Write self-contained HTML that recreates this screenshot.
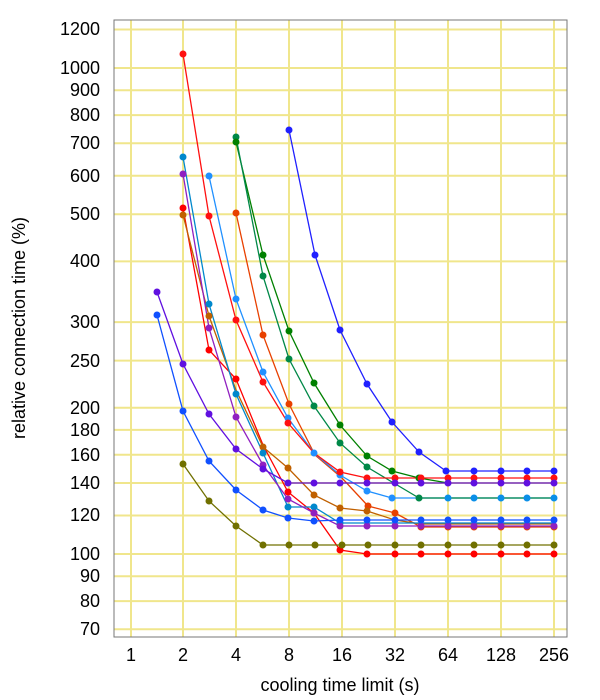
<!DOCTYPE html><html><head><style>body{margin:0;background:#fff}svg{display:block;font-family:"Liberation Sans",sans-serif}</style></head><body>
<svg width="600" height="700" xmlns="http://www.w3.org/2000/svg">
<g stroke="#f0e68c" stroke-width="2">
<line x1="131" y1="20" x2="131" y2="637"/><line x1="183" y1="20" x2="183" y2="637"/><line x1="236" y1="20" x2="236" y2="637"/><line x1="289" y1="20" x2="289" y2="637"/><line x1="342" y1="20" x2="342" y2="637"/><line x1="395" y1="20" x2="395" y2="637"/><line x1="448" y1="20" x2="448" y2="637"/><line x1="501" y1="20" x2="501" y2="637"/><line x1="554" y1="20" x2="554" y2="637"/>
<line x1="114" y1="629.3" x2="567" y2="629.3"/><line x1="114" y1="601.1" x2="567" y2="601.1"/><line x1="114" y1="576.2" x2="567" y2="576.2"/><line x1="114" y1="554" x2="567" y2="554"/><line x1="114" y1="515.5" x2="567" y2="515.5"/><line x1="114" y1="483" x2="567" y2="483"/><line x1="114" y1="454.8" x2="567" y2="454.8"/><line x1="114" y1="429.9" x2="567" y2="429.9"/><line x1="114" y1="407.7" x2="567" y2="407.7"/><line x1="114" y1="360.6" x2="567" y2="360.6"/><line x1="114" y1="322.1" x2="567" y2="322.1"/><line x1="114" y1="261.4" x2="567" y2="261.4"/><line x1="114" y1="214.3" x2="567" y2="214.3"/><line x1="114" y1="175.8" x2="567" y2="175.8"/><line x1="114" y1="143.3" x2="567" y2="143.3"/><line x1="114" y1="115.1" x2="567" y2="115.1"/><line x1="114" y1="90.3" x2="567" y2="90.3"/><line x1="114" y1="68" x2="567" y2="68"/><line x1="114" y1="29.5" x2="567" y2="29.5"/>
</g>
<rect x="114" y="20" width="453" height="617" fill="none" stroke="#777" stroke-width="1"/>
<g font-size="18" fill="#000" text-anchor="end">
<text x="100" y="635">70</text><text x="100" y="607">80</text><text x="100" y="582">90</text><text x="100" y="560">100</text><text x="100" y="521">120</text><text x="100" y="489">140</text><text x="100" y="461">160</text><text x="100" y="436">180</text><text x="100" y="414">200</text><text x="100" y="367">250</text><text x="100" y="328">300</text><text x="100" y="267">400</text><text x="100" y="220">500</text><text x="100" y="182">600</text><text x="100" y="149">700</text><text x="100" y="121">800</text><text x="100" y="96">900</text><text x="100" y="74">1000</text><text x="100" y="35">1200</text>
</g>
<g font-size="18" fill="#000" text-anchor="middle">
<text x="131" y="661">1</text><text x="183" y="661">2</text><text x="236" y="661">4</text><text x="289" y="661">8</text><text x="342" y="661">16</text><text x="395" y="661">32</text><text x="448" y="661">64</text><text x="501" y="661">128</text><text x="554" y="661">256</text>
<text x="340" y="691">cooling time limit (s)</text>
<text transform="translate(25,328) rotate(-90)">relative connection time (%)</text>
</g>
<g fill="none" stroke-width="1.3">
<polyline stroke="#ff0000" points="183,208 209,350 236,379 263,445 288,492 314,513 340,550 367,554 395,554 421,554 448,554 474,554 501,554 527,554 554,554"/>
<polyline stroke="#e84000" points="236,213 263,335 289,404 315,455 342,478 368,506 395,513 421,527 448,527 474,527 501,527 527,527 554,527"/>
<polyline stroke="#c06000" points="183,215 209,316 236,390 263,447 288,468 314,495 340,508 367,511 395,520 421,524 448,524 474,524 501,524 527,524 554,524"/>
<polyline stroke="#0088cc" points="183,157 209,304 236,394 263,453 288,507 314,507 340,523 367,523 395,523 421,523 448,523 474,523 501,523 527,523 554,523"/>
<polyline stroke="#9020c0" points="183,174 209,328 236,417 263,465 288,499 314,513 340,526 367,526 395,526 421,526 448,526 474,526 501,526 527,526 554,526"/>
<polyline stroke="#2090ff" points="209,176 236,299 263,372 288,418 314,453 340,475 367,491 392,498 421,498 448,498 474,498 501,498 527,498 554,498"/>
<polyline stroke="#008000" points="236,142 263,255 289,331 314,383 340,425 367,456 392,471 419,478 448,483"/>
<polyline stroke="#008848" points="236,137 263,276 289,359 314,406 340,443 367,467 392,482 419,498 448,498 474,498 501,498 527,498 554,498"/>
<polyline stroke="#ff1010" points="183,54 209,216 236,320 263,382 288,423 314,453 340,472 367,478 395,478 421,478 448,478 474,478 501,478 527,478 554,478"/>
<polyline stroke="#6010e0" points="157,292 183,364 209,414 236,449 263,469 288,483 314,483 340,483 367,483 395,483 421,483 448,483 474,483 501,483 527,483 554,483"/>
<polyline stroke="#1050ff" points="157,315 183,411 209,461 236,490 263,510 288,518 314,521 340,520 367,520 395,520 421,520 448,520 474,520 501,520 527,520 554,520"/>
<polyline stroke="#707000" points="183,464 209,501 236,526 263,545 289,545 315,545 342,545 368,545 395,545 421,545 448,545 474,545 501,545 527,545 554,545"/>
<polyline stroke="#2020ff" points="289,130 315,255 340,330 367,384 392,422 419,452 446,471 474,471 501,471 527,471 554,471"/>
</g>
<g fill="#ff0000"><circle cx="183" cy="208" r="3.5"/><circle cx="209" cy="350" r="3.5"/><circle cx="236" cy="379" r="3.5"/><circle cx="288" cy="492" r="3.5"/><circle cx="314" cy="513" r="3.5"/><circle cx="340" cy="550" r="3.5"/><circle cx="367" cy="554" r="3.5"/><circle cx="395" cy="554" r="3.5"/><circle cx="421" cy="554" r="3.5"/><circle cx="448" cy="554" r="3.5"/><circle cx="474" cy="554" r="3.5"/><circle cx="501" cy="554" r="3.5"/><circle cx="527" cy="554" r="3.5"/><circle cx="554" cy="554" r="3.5"/></g>
<g fill="#e84000"><circle cx="236" cy="213" r="3.5"/><circle cx="263" cy="335" r="3.5"/><circle cx="289" cy="404" r="3.5"/><circle cx="368" cy="506" r="3.5"/><circle cx="395" cy="513" r="3.5"/><circle cx="421" cy="527" r="3.5"/><circle cx="448" cy="527" r="3.5"/><circle cx="474" cy="527" r="3.5"/><circle cx="501" cy="527" r="3.5"/><circle cx="527" cy="527" r="3.5"/><circle cx="554" cy="527" r="3.5"/></g>
<g fill="#c06000"><circle cx="183" cy="215" r="3.5"/><circle cx="209" cy="316" r="3.5"/><circle cx="263" cy="447" r="3.5"/><circle cx="288" cy="468" r="3.5"/><circle cx="314" cy="495" r="3.5"/><circle cx="340" cy="508" r="3.5"/><circle cx="367" cy="511" r="3.5"/></g>
<g fill="#0088cc"><circle cx="183" cy="157" r="3.5"/><circle cx="209" cy="304" r="3.5"/><circle cx="236" cy="394" r="3.5"/><circle cx="263" cy="453" r="3.5"/><circle cx="288" cy="507" r="3.5"/><circle cx="314" cy="507" r="3.5"/><circle cx="340" cy="523" r="3.5"/></g>
<g fill="#9020c0"><circle cx="183" cy="174" r="3.5"/><circle cx="209" cy="328" r="3.5"/><circle cx="236" cy="417" r="3.5"/><circle cx="263" cy="465" r="3.5"/><circle cx="288" cy="499" r="3.5"/><circle cx="314" cy="513" r="3.5"/><circle cx="340" cy="526" r="3.5"/><circle cx="367" cy="526" r="3.5"/><circle cx="395" cy="526" r="3.5"/><circle cx="421" cy="526" r="3.5"/><circle cx="448" cy="526" r="3.5"/><circle cx="474" cy="526" r="3.5"/><circle cx="501" cy="526" r="3.5"/><circle cx="527" cy="526" r="3.5"/><circle cx="554" cy="526" r="3.5"/></g>
<g fill="#2090ff"><circle cx="209" cy="176" r="3.5"/><circle cx="236" cy="299" r="3.5"/><circle cx="263" cy="372" r="3.5"/><circle cx="288" cy="418" r="3.5"/><circle cx="314" cy="453" r="3.5"/><circle cx="340" cy="475" r="3.5"/><circle cx="367" cy="491" r="3.5"/><circle cx="392" cy="498" r="3.5"/></g>
<g fill="#008848"><circle cx="236" cy="137" r="3.5"/><circle cx="263" cy="276" r="3.5"/><circle cx="289" cy="359" r="3.5"/><circle cx="314" cy="406" r="3.5"/><circle cx="340" cy="443" r="3.5"/><circle cx="367" cy="467" r="3.5"/><circle cx="419" cy="498" r="3.5"/></g>
<g fill="#008000"><circle cx="236" cy="142" r="3.5"/><circle cx="263" cy="255" r="3.5"/><circle cx="289" cy="331" r="3.5"/><circle cx="314" cy="383" r="3.5"/><circle cx="340" cy="425" r="3.5"/><circle cx="367" cy="456" r="3.5"/><circle cx="392" cy="471" r="3.5"/><circle cx="419" cy="478" r="3.5"/></g>
<g fill="#0a8fe8"><circle cx="448" cy="498" r="3.5"/><circle cx="474" cy="498" r="3.5"/><circle cx="501" cy="498" r="3.5"/><circle cx="527" cy="498" r="3.5"/><circle cx="554" cy="498" r="3.5"/></g>
<g fill="#ff1010"><circle cx="183" cy="54" r="3.5"/><circle cx="209" cy="216" r="3.5"/><circle cx="236" cy="320" r="3.5"/><circle cx="263" cy="382" r="3.5"/><circle cx="288" cy="423" r="3.5"/><circle cx="340" cy="472" r="3.5"/><circle cx="367" cy="478" r="3.5"/><circle cx="395" cy="478" r="3.5"/><circle cx="421" cy="478" r="3.5"/><circle cx="448" cy="478" r="3.5"/><circle cx="474" cy="478" r="3.5"/><circle cx="501" cy="478" r="3.5"/><circle cx="527" cy="478" r="3.5"/><circle cx="554" cy="478" r="3.5"/></g>
<g fill="#1050ff"><circle cx="157" cy="315" r="3.5"/><circle cx="183" cy="411" r="3.5"/><circle cx="209" cy="461" r="3.5"/><circle cx="236" cy="490" r="3.5"/><circle cx="263" cy="510" r="3.5"/><circle cx="288" cy="518" r="3.5"/><circle cx="314" cy="521" r="3.5"/><circle cx="340" cy="520" r="3.5"/><circle cx="367" cy="520" r="3.5"/><circle cx="395" cy="520" r="3.5"/><circle cx="421" cy="520" r="3.5"/><circle cx="448" cy="520" r="3.5"/><circle cx="474" cy="520" r="3.5"/><circle cx="501" cy="520" r="3.5"/><circle cx="527" cy="520" r="3.5"/><circle cx="554" cy="520" r="3.5"/></g>
<g fill="#6010e0"><circle cx="157" cy="292" r="3.5"/><circle cx="183" cy="364" r="3.5"/><circle cx="209" cy="414" r="3.5"/><circle cx="236" cy="449" r="3.5"/><circle cx="263" cy="469" r="3.5"/><circle cx="288" cy="483" r="3.5"/><circle cx="314" cy="483" r="3.5"/><circle cx="340" cy="483" r="3.5"/><circle cx="367" cy="483" r="3.5"/><circle cx="395" cy="483" r="3.5"/><circle cx="421" cy="483" r="3.5"/><circle cx="448" cy="483" r="3.5"/><circle cx="474" cy="483" r="3.5"/><circle cx="501" cy="483" r="3.5"/><circle cx="527" cy="483" r="3.5"/><circle cx="554" cy="483" r="3.5"/></g>
<g fill="#707000"><circle cx="183" cy="464" r="3.5"/><circle cx="209" cy="501" r="3.5"/><circle cx="236" cy="526" r="3.5"/><circle cx="263" cy="545" r="3.5"/><circle cx="289" cy="545" r="3.5"/><circle cx="315" cy="545" r="3.5"/><circle cx="342" cy="545" r="3.5"/><circle cx="368" cy="545" r="3.5"/><circle cx="395" cy="545" r="3.5"/><circle cx="421" cy="545" r="3.5"/><circle cx="448" cy="545" r="3.5"/><circle cx="474" cy="545" r="3.5"/><circle cx="501" cy="545" r="3.5"/><circle cx="527" cy="545" r="3.5"/><circle cx="554" cy="545" r="3.5"/></g>
<g fill="#2020ff"><circle cx="289" cy="130" r="3.5"/><circle cx="315" cy="255" r="3.5"/><circle cx="340" cy="330" r="3.5"/><circle cx="367" cy="384" r="3.5"/><circle cx="392" cy="422" r="3.5"/><circle cx="419" cy="452" r="3.5"/><circle cx="446" cy="471" r="3.5"/><circle cx="474" cy="471" r="3.5"/><circle cx="501" cy="471" r="3.5"/><circle cx="527" cy="471" r="3.5"/><circle cx="554" cy="471" r="3.5"/></g>
</svg></body></html>
